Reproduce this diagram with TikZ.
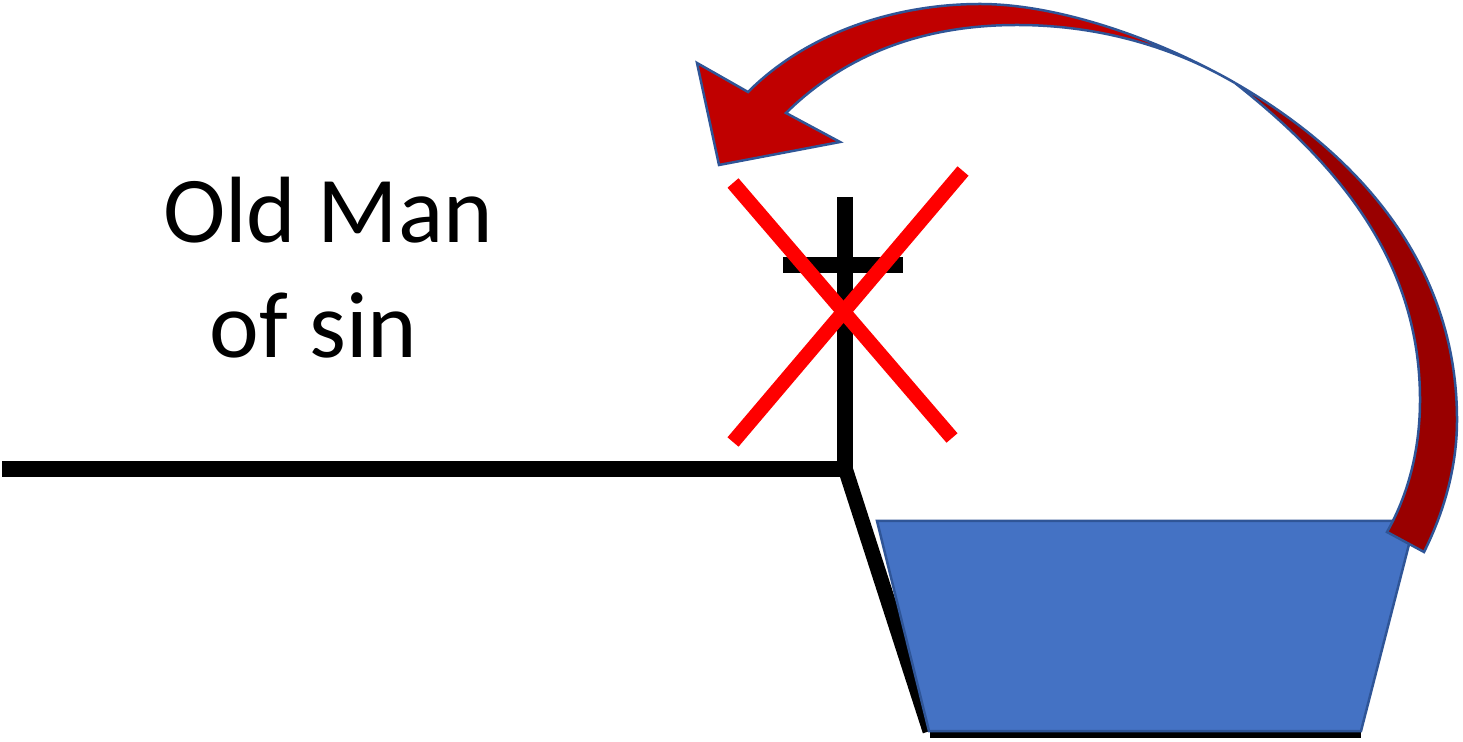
\documentclass[tikz,border=0pt]{standalone}
\usepackage{fontspec}
\setmainfont{Carlito}
\tikzset{
    barline/.style={line width=0.32cm, black},
    crossline/.style={line width=0.29cm, red},
    arrowpart/.style={draw=myedge, line width=0.05cm, line join=miter},
    oldtext/.style={font=\fontsize{53.6}{60}\selectfont, inner sep=0pt, anchor=base}
}
\definecolor{myedge}{HTML}{2F5597}
\definecolor{mywater}{HTML}{4472C4}
\definecolor{myarrowlight}{HTML}{C00000}
\definecolor{myarrowdark}{HTML}{990000}

\begin{document}
\begin{tikzpicture}[x=0.02cm, y=-0.02cm]
            \useasboundingbox (0,0) rectangle (1463,742);
            % ground and cross
            \draw[barline] (2,469) -- (846,469);
            \draw[barline] (845,197) -- (845,477);
            \draw[barline] (783,265) -- (903,265);
            % bank and floor of the pool
            \draw[line width=0.3cm] (845,468) -- (930,731);
            \draw[line width=0.2cm] (930,733) -- (1361,733);
            % pool
            \filldraw[fill=mywater, draw=myedge, line width=0.05cm] (877,521) -- (1415,521) -- (1361,731) -- (929,731) -- cycle;
            % crossing out
            \draw[crossline] (733,183) -- (952,438);
            \draw[crossline] (963,171) -- (733,442);
            % back of the curved arrow
            \filldraw[arrowpart, fill=myarrowdark] (1424,552) .. controls (1445,510) and (1457,465) .. (1457,420)
                .. controls (1457,270) and (1365,158) .. (1235,83)
                .. controls (1343,168) and (1420,265) .. (1420,400)
                .. controls (1420,450) and (1408,495) .. (1387,532) -- cycle;
            % front of the curved arrow
            \filldraw[arrowpart, fill=myarrowlight] (1235,83) .. controls (1170,45) and (1095,25) .. (1017,25)
                .. controls (930,25) and (850,50) .. (786,113)
                -- (840,142) -- (719,165) -- (697,63) -- (748,92)
                .. controls (810,30) and (900,4) .. (980,4)
                .. controls (1060,4) and (1160,40) .. (1235,83) -- cycle;
            % labels
            \node[oldtext] (oldman) at (328,243) {Old Man};
            \node[oldtext] (ofsin) at (313.5,358) {of sin};
        \end{tikzpicture}
\end{document}
